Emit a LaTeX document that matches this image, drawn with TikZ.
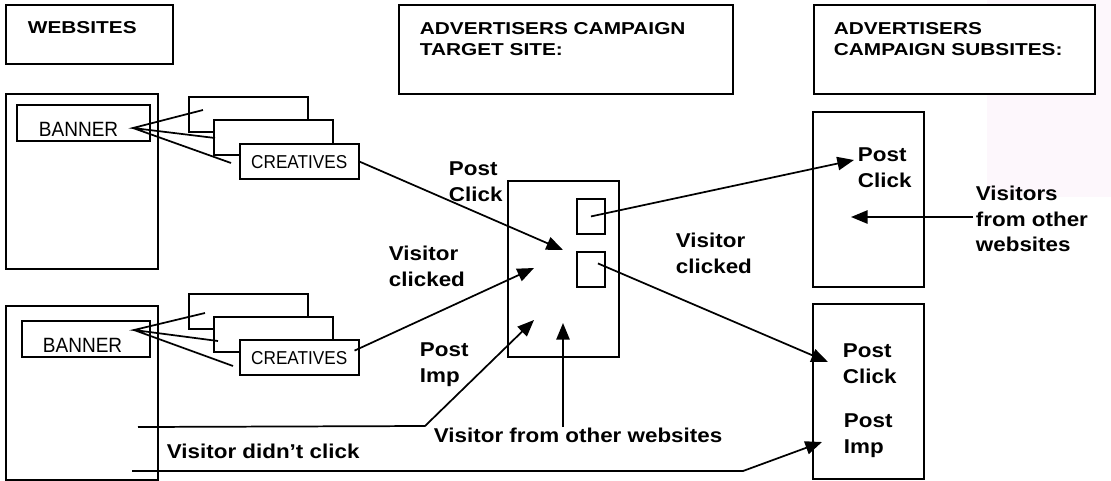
\documentclass[tikz,border=0pt]{standalone}
\usepackage{fontspec}
\setmainfont{Liberation Sans}
\newfontfamily\hdrfont[FakeStretch=1.21]{Liberation Sans}
\newfontfamily\lblfont[FakeStretch=1.12]{Liberation Sans}
\newfontfamily\boxfont[FakeStretch=0.92]{Liberation Sans}
\usepackage{tikz}
\usetikzlibrary{arrows.meta}
\usetikzlibrary{calc}
\definecolor{blush}{RGB}{253,247,252}

\begin{document}
\begin{tikzpicture}[x=0.75pt,y=-0.75pt,line width=1.4pt,
		>={Triangle[length=12.5pt,width=10pt]},
		box/.style={draw,rectangle,inner sep=0pt,anchor=north west},
		creative/.style={box,fill=white,minimum width=89pt,minimum height=26.5pt,font=\boxfont\fontsize{14}{16}\selectfont},
		banner/.style={box,minimum height=27pt,font=\boxfont\fontsize{15.5}{18}\selectfont,align=left,text height=21pt,text depth=0pt},
		hdr/.style={font=\hdrfont\bfseries\fontsize{12.9}{15.75}\selectfont,align=left,inner sep=0pt,anchor=north west},
		lbl/.style={font=\lblfont\bfseries\fontsize{15}{19.3}\selectfont,align=left,inner sep=0pt,anchor=north west},
		flow/.style={->,line width=1.3pt}]
		\useasboundingbox (0,0) rectangle (1111,480);
		\fill[blush] (987,0) rectangle (1111,197);
		
		% headers
		\node[box,minimum width=125.25pt,minimum height=44.25pt] (hdrWeb) at (5,4) {};
		\node[box,minimum width=250.5pt,minimum height=66.75pt] (hdrTgt) at (398,4) {};
		\node[box,fill=white,minimum width=210.75pt,minimum height=66.75pt] (hdrSub) at (813,4) {};
		\node[hdr] (webT) at (27,21) {WEBSITES};
		\node[hdr] (tgtT) at (419,22) {ADVERTISERS CAMPAIGN\\TARGET SITE:};
		\node[hdr] (subT) at (833,22) {ADVERTISERS\\CAMPAIGN SUBSITES:};
		
		% websites
		\node[box,minimum width=114pt,minimum height=131.25pt] (webA) at (5,93) {};
		\node[box,minimum width=114pt,minimum height=130.5pt] (webB) at (5,305) {};
		\node[banner,minimum width=99.75pt,text width=66.75pt] (banA) at (16,104) {BANNER};
		\node[banner,minimum width=96pt,text width=64.5pt] (banB) at (21,320) {BANNER};
		\node[creative] (c1A) at (188,96) {};
		\node[creative] (c2A) at (213,119) {};
		\node[creative] (c3A) at (239,143) {CREATIVES};
		\node[creative] (c1B) at (188,293) {};
		\node[creative] (c2B) at (213,316) {};
		\node[creative] (c3B) at (239,339) {CREATIVES};
		
		% target site and subsites
		\node[box,minimum width=83.25pt,minimum height=132pt] (tgt) at (507,180) {};
		\node[box,minimum width=21pt,minimum height=26.25pt] (sbUp) at (576,198) {};
		\node[box,minimum width=21pt,minimum height=26.25pt] (sbLo) at (576,251) {};
		\node[box,minimum width=83.25pt,minimum height=131.25pt] (subUp) at (812,111) {};
		\node[box,minimum width=83.25pt,minimum height=131.25pt] (subLo) at (812,303) {};
		
		% labels
		\node[lbl] (pcA) at (448,161) {Post\\Click};
		\node[lbl] (vcA) at (388,245) {Visitor\\clicked};
		\node[lbl] (piA) at (419,342) {Post\\Imp};
		\node[lbl] (vcB) at (675,232) {Visitor\\clicked};
		\node[lbl] (vdc) at (166,443) {Visitor didn’t click};
		\node[lbl] (vfo) at (433,427) {Visitor from other websites};
		\node[lbl] (pcS) at (857,147) {Post\\Click};
		\node[lbl] (vos) at (975,185) {Visitors\\from other\\websites};
		\node[lbl] (pcL) at (842,343) {Post\\Click};
		\node[lbl] (piL) at (843,413) {Post\\Imp};
		
		\coordinate (fanA) at (133,128);
		\coordinate (fanB) at (134,330);
		\coordinate (f1A) at (203,110);
		\coordinate (f2A) at (215,138);
		\coordinate (f3A) at (231,163);
		\coordinate (f1B) at (205,313);
		\coordinate (f2B) at (218,341);
		\coordinate (f3B) at (233,366);
		\draw[line width=1.3pt] (f1A) -- (fanA) -- (f2A) (fanA) -- (f3A);
		\draw[line width=1.3pt] (f1B) -- (fanB) -- (f2B) (fanB) -- (f3B);
		
		\coordinate (inA) at (563,250);
		\coordinate (inB) at (534,268);
		\coordinate (inC) at (534,320);
		\coordinate (inD) at (563,323);
		\coordinate (impA) at (138,427);
		\coordinate (impB) at (132,471);
		\coordinate (outA) at (854,160);
		\coordinate (outB) at (828,362);
		\coordinate (outC) at (822,442);
		\coordinate (outD) at (851,217);
		\coordinate (vosA) at (973,217);
		
		\draw[flow] (c3A.east) -- (inA);
		\draw[flow] ($(c3B.east)+(-5,-7)$) -- (inB);
		\draw[flow] (impA) -- (425,426) -- (inC);
		\draw[flow] (vfo.north -| inD) -- (inD);
		\draw[flow] (impB) -- (743,471) -- (outC);
		\draw[flow] (sbUp.center) -- (outA);
		\draw[flow] ($(sbLo.center)+(7,-6)$) -- (outB);
		\draw[flow] (vosA) -- (outD);
		\end{tikzpicture}
\end{document}
